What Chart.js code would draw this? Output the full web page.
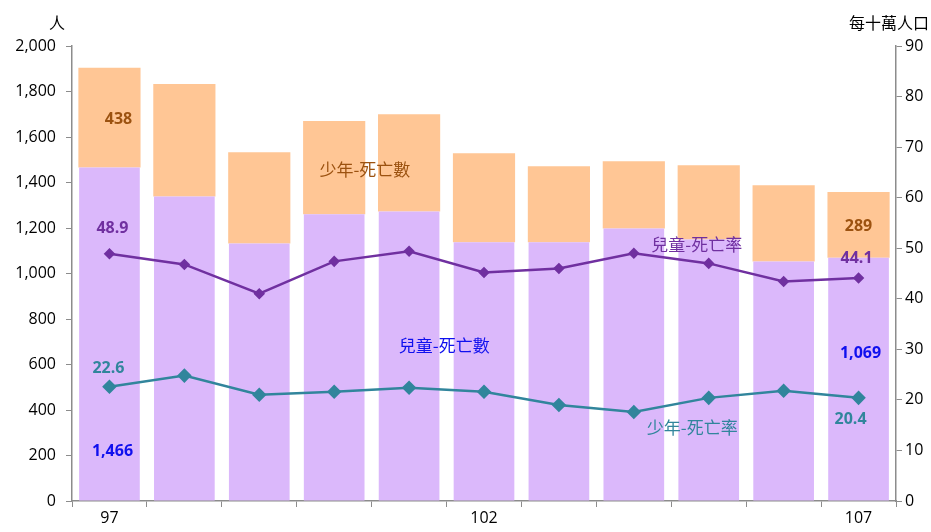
<!doctype html>
<html lang="zh-Hant">
<head>
<meta charset="utf-8">
<script src="https://cdn.jsdelivr.net/npm/chart.js"></script>
<style>
  body { margin: 0; background: #fff; }
  #wrap { width: 931px; height: 532px; }
</style>
</head>
<body>
<div id="wrap">
  <canvas id="myChart"></canvas>
</div>

<script>
  // 民國年
  const years = ['97', '98', '99', '100', '101', '102', '103', '104', '105', '106', '107'];
  const shownYears = ['97', '102', '107'];

  // 死亡數 (人)
  const childDeaths = [1466, 1339, 1132, 1260, 1273, 1137, 1137, 1198, 1150, 1053, 1069];
  const youthDeaths = [438, 494, 401, 410, 427, 392, 334, 295, 326, 335, 289];

  // 死亡率 (每十萬人口)
  const childRate = [48.9, 46.8, 41.0, 47.4, 49.4, 45.2, 46.0, 49.0, 47.0, 43.4, 44.1];
  const youthRate = [22.6, 24.8, 21.0, 21.6, 22.4, 21.6, 19.0, 17.6, 20.4, 21.8, 20.4];

  const CJK = '"Noto Sans CJK TC", "Noto Sans", sans-serif';
  const NUM = '"Open Sans", "Noto Sans", sans-serif';

  // value labels: dataset, index, offset from element
  const valueLabels = [
    { ds: 1, i: 0, dx: 9, dy: 2, color: '#9C5210' },
    { ds: 1, i: 10, dx: 0, dy: 2, color: '#9C5210' },
    { ds: 0, i: 0, dx: 3, dy: 117, color: '#1010EE' },
    { ds: 0, i: 10, dx: 2, dy: -26, color: '#1010EE' },
    { ds: 2, i: 0, dx: 3, dy: -25, color: '#7030A0' },
    { ds: 2, i: 10, dx: -2, dy: -20, color: '#7030A0' },
    { ds: 3, i: 0, dx: -1, dy: -18, color: '#31859C' },
    { ds: 3, i: 10, dx: -8, dy: 22, color: '#31859C' }
  ];

  // series name labels placed in scale units
  const nameLabels = [
    { text: '少年-死亡數', at: 3.41, v: 1458, axis: 'y', color: '#9C5210' },
    { text: '兒童-死亡率', at: 7.84, v: 50.75, axis: 'y1', color: '#7030A0' },
    { text: '兒童-死亡數', at: 4.47, v: 683, axis: 'y', color: '#1010EE' },
    { text: '少年-死亡率', at: 7.78, v: 14.5, axis: 'y1', color: '#31859C' }
  ];

  const labelPlugin = {
    id: 'labels',
    afterDatasetsDraw(chart) {
      const ctx = chart.ctx;
      const xs = chart.scales.x;
      ctx.save();
      ctx.textAlign = 'center';
      ctx.textBaseline = 'middle';

      ctx.font = 'bold 16px ' + NUM;
      valueLabels.forEach(l => {
        const el = chart.getDatasetMeta(l.ds).data[l.i];
        const raw = chart.data.datasets[l.ds].data[l.i];
        let y = el.y;
        if (el.base !== undefined && chart.data.datasets[l.ds].type === 'bar') y = (el.y + el.base) / 2;
        const txt = l.ds < 2 ? raw.toLocaleString('en-US') : raw.toFixed(1);
        ctx.fillStyle = l.color;
        ctx.fillText(txt, el.x + l.dx, y + l.dy);
      });

      ctx.font = '17px ' + CJK;
      nameLabels.forEach(l => {
        const i0 = Math.floor(l.at);
        const x0 = xs.getPixelForValue(i0);
        const x1 = xs.getPixelForValue(i0 + 1);
        const x = x0 + (x1 - x0) * (l.at - i0);
        const y = chart.scales[l.axis].getPixelForValue(l.v);
        ctx.fillStyle = l.color;
        ctx.fillText(l.text, x, y);
      });

      // axis unit titles
      ctx.fillStyle = '#000';
      ctx.font = '16px ' + CJK;
      ctx.fillText('人', 57, 23);
      ctx.textAlign = 'right';
      ctx.fillText('每十萬人口', 929, 23);
      ctx.restore();
    }
  };

  const canvas = document.getElementById('myChart');
  const chart = new Chart(canvas, {
    type: 'bar',
    data: {
      labels: years,
      datasets: [
        {
          type: 'bar', label: '兒童-死亡數', data: childDeaths,
          backgroundColor: '#DBB8FB', yAxisID: 'y', order: 2,
          barPercentage: 0.81, categoryPercentage: 1
        },
        {
          type: 'bar', label: '少年-死亡數', data: youthDeaths,
          backgroundColor: '#FFC695', yAxisID: 'y', order: 2,
          barPercentage: 0.83, categoryPercentage: 1
        },
        {
          type: 'line', label: '兒童-死亡率', data: childRate,
          borderColor: '#7030A0', backgroundColor: '#7030A0', borderWidth: 2.5,
          pointStyle: 'rectRot', pointRadius: 4, yAxisID: 'y1', order: 0, tension: 0
        },
        {
          type: 'line', label: '少年-死亡率', data: youthRate,
          borderColor: '#31859C', backgroundColor: '#31859C', borderWidth: 2.5,
          pointStyle: 'rectRot', pointRadius: 5.5, yAxisID: 'y1', order: 0, tension: 0
        }
      ]
    },
    options: {
      responsive: true,
      maintainAspectRatio: false,
      animation: false,
      layout: { padding: { left: 0, right: 0, top: 46, bottom: 0 } },
      plugins: {
        legend: { display: false },
        tooltip: { enabled: false }
      },
      scales: {
        x: {
          stacked: true,
          border: { color: '#8c8c8c', width: 1.5 },
          grid: { drawOnChartArea: false, drawTicks: true, tickLength: 6, color: '#8c8c8c', offset: true },
          ticks: {
            color: '#000', font: { family: NUM, size: 16 }, padding: 2, maxRotation: 0, autoSkip: false,
            callback: function (v) {
              const lab = this.getLabelForValue(v);
              return shownYears.includes(lab) ? lab : '';
            }
          },
          afterFit: s => { s.height = 31; }
        },
        y: {
          stacked: true, position: 'left', min: 0, max: 2000,
          border: { color: '#8c8c8c', width: 1.5 },
          grid: { drawOnChartArea: false, tickLength: 6, color: '#8c8c8c' },
          ticks: {
            stepSize: 200, color: '#000', font: { family: NUM, size: 16 }, padding: 10,
            callback: v => v.toLocaleString('en-US')
          },
          afterFit: s => { s.width = 72; }
        },
        y1: {
          position: 'right', min: 0, max: 90,
          border: { color: '#8c8c8c', width: 1.5 },
          grid: { drawOnChartArea: false, tickLength: 6, color: '#8c8c8c' },
          ticks: { stepSize: 10, color: '#000', font: { family: NUM, size: 16 }, padding: 3 },
          afterFit: s => { s.width = 35; }
        }
      }
    },
    plugins: [labelPlugin]
  });
</script>
</body>
</html>
